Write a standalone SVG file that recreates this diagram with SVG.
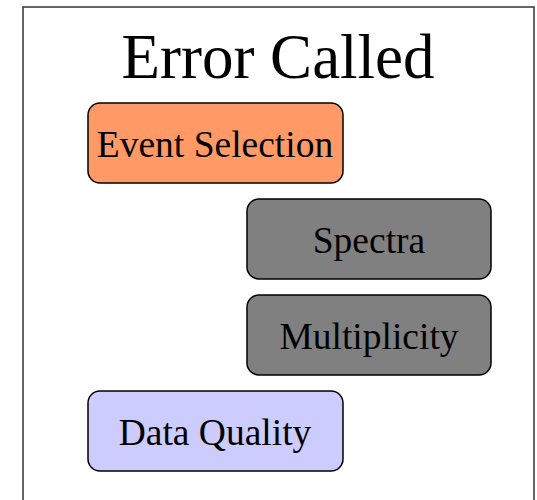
<svg xmlns="http://www.w3.org/2000/svg" width="537" height="500" viewBox="0 0 537 500">
  <style>
    .frame { fill: #ffffff; stroke: #333333; stroke-width: 1.5; }
    .box { stroke: #000000; stroke-width: 1.5; }
    .label { font-family: "Liberation Serif", "Times New Roman", serif; fill: #000000; text-anchor: middle; }
    .title { font-size: 63px; }
    .name { font-size: 37.5px; }
  </style>
  <rect width="537" height="500" fill="#ffffff"/>
  <g id="frame">
    <rect class="frame" x="23" y="7" width="511" height="520"/>
    <text class="label title" x="278" y="78">Error Called</text>
  </g>
  <g id="connectors"/>
  <g id="event-selection">
    <rect class="box" x="88" y="103" width="255" height="80" rx="12" fill="#ff9966"/>
    <text class="label name" x="215" y="157">Event Selection</text>
  </g>
  <g id="spectra">
    <rect class="box" x="247" y="199" width="244" height="80" rx="12" fill="#808080"/>
    <text class="label name" x="369" y="253">Spectra</text>
  </g>
  <g id="multiplicity">
    <rect class="box" x="247" y="295" width="244" height="80" rx="12" fill="#808080"/>
    <text class="label name" x="369" y="349">Multiplicity</text>
  </g>
  <g id="data-quality">
    <rect class="box" x="88" y="391" width="255" height="80" rx="12" fill="#ccccff"/>
    <text class="label name" x="215" y="445">Data Quality</text>
  </g>
</svg>
